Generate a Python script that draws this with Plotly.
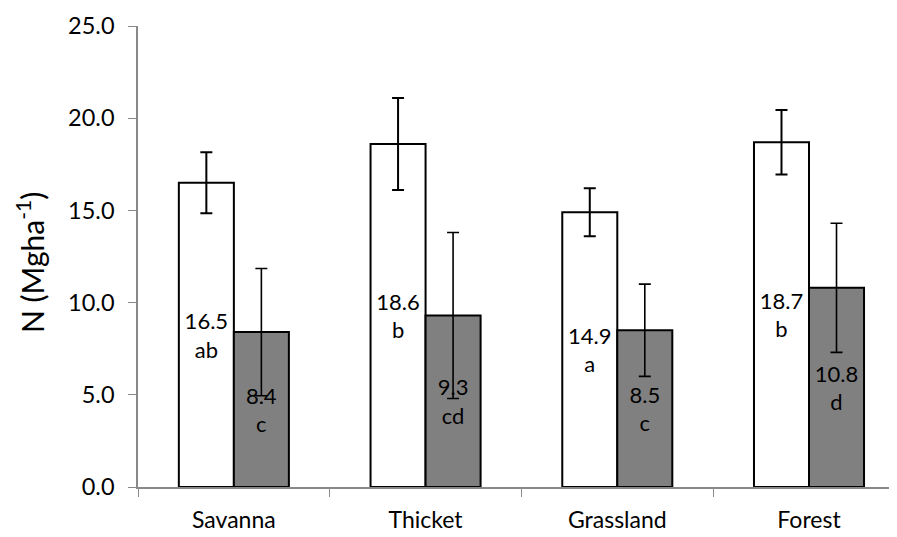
import plotly.graph_objects as go

categories = ["Savanna", "Thicket", "Grassland", "Forest"]
white_vals = [16.5, 18.6, 14.9, 18.7]
white_err = [1.65, 2.5, 1.3, 1.75]
white_letters = ["ab", "b", "a", "b"]
gray_vals = [8.4, 9.3, 8.5, 10.8]
gray_err = [3.45, 4.5, 2.5, 3.5]
gray_letters = ["c", "cd", "c", "d"]
y_ticks = [0, 5, 10, 15, 20, 25]

FONT = "Lato"
white_text = [f"{v:.1f}<br>{l}" for v, l in zip(white_vals, white_letters)]
gray_text = [f"{v:.1f}<br>{l}" for v, l in zip(gray_vals, gray_letters)]

fig = go.Figure()
fig.add_trace(go.Bar(
    x=categories, y=white_vals, text=white_text,
    textposition="inside", insidetextanchor="middle", constraintext="none",
    textfont=dict(family=FONT, size=22, color="black"),
    marker=dict(color="white", line=dict(color="black", width=2)),
    error_y=dict(type="data", array=white_err, color="black", thickness=2, width=6),
    showlegend=False,
))
fig.add_trace(go.Bar(
    x=categories, y=gray_vals, text=gray_text,
    textposition="inside", insidetextanchor="middle", constraintext="none",
    textfont=dict(family=FONT, size=22, color="black"),
    marker=dict(color="#808080", line=dict(color="black", width=2)),
    error_y=dict(type="data", array=gray_err, color="black", thickness=1.6, width=6),
    showlegend=False,
))

# page body adds an 8px offset; figure is sized so the plot lands where the reference has it
fig.update_layout(
    width=889, height=529,
    margin=dict(l=130, r=0, t=18, b=50, autoexpand=False),
    paper_bgcolor="white", plot_bgcolor="white",
    barmode="group", bargap=0.426, bargroupgap=0,
    font=dict(family=FONT, size=22, color="black"),
    xaxis=dict(
        range=[-0.5, 3.459], showline=True, linecolor="#898989", linewidth=1.5,
        ticks="outside", tickson="boundaries", ticklen=8, tickcolor="#898989",
        showgrid=False, ticklabelstandoff=12,
        tickfont=dict(family=FONT, size=23, color="black"),
    ),
    yaxis=dict(
        range=[0, 25], tickvals=y_ticks, tickformat=".1f",
        showline=True, linecolor="#898989", linewidth=1.5,
        ticks="outside", ticklen=8, tickcolor="#898989",
        showgrid=False, zeroline=False, ticklabelstandoff=9,
        tickfont=dict(family=FONT, size=23.5, color="black"),
    ),
    annotations=[dict(
        text="N (Mgha<sup>-1</sup>)", textangle=-90,
        xref="paper", yref="paper", x=(22 - 130) / 759, y=0.488,
        xanchor="center", yanchor="middle", showarrow=False,
        font=dict(family=FONT, size=30, color="black"),
    )],
)

fig.write_html("out.html")
